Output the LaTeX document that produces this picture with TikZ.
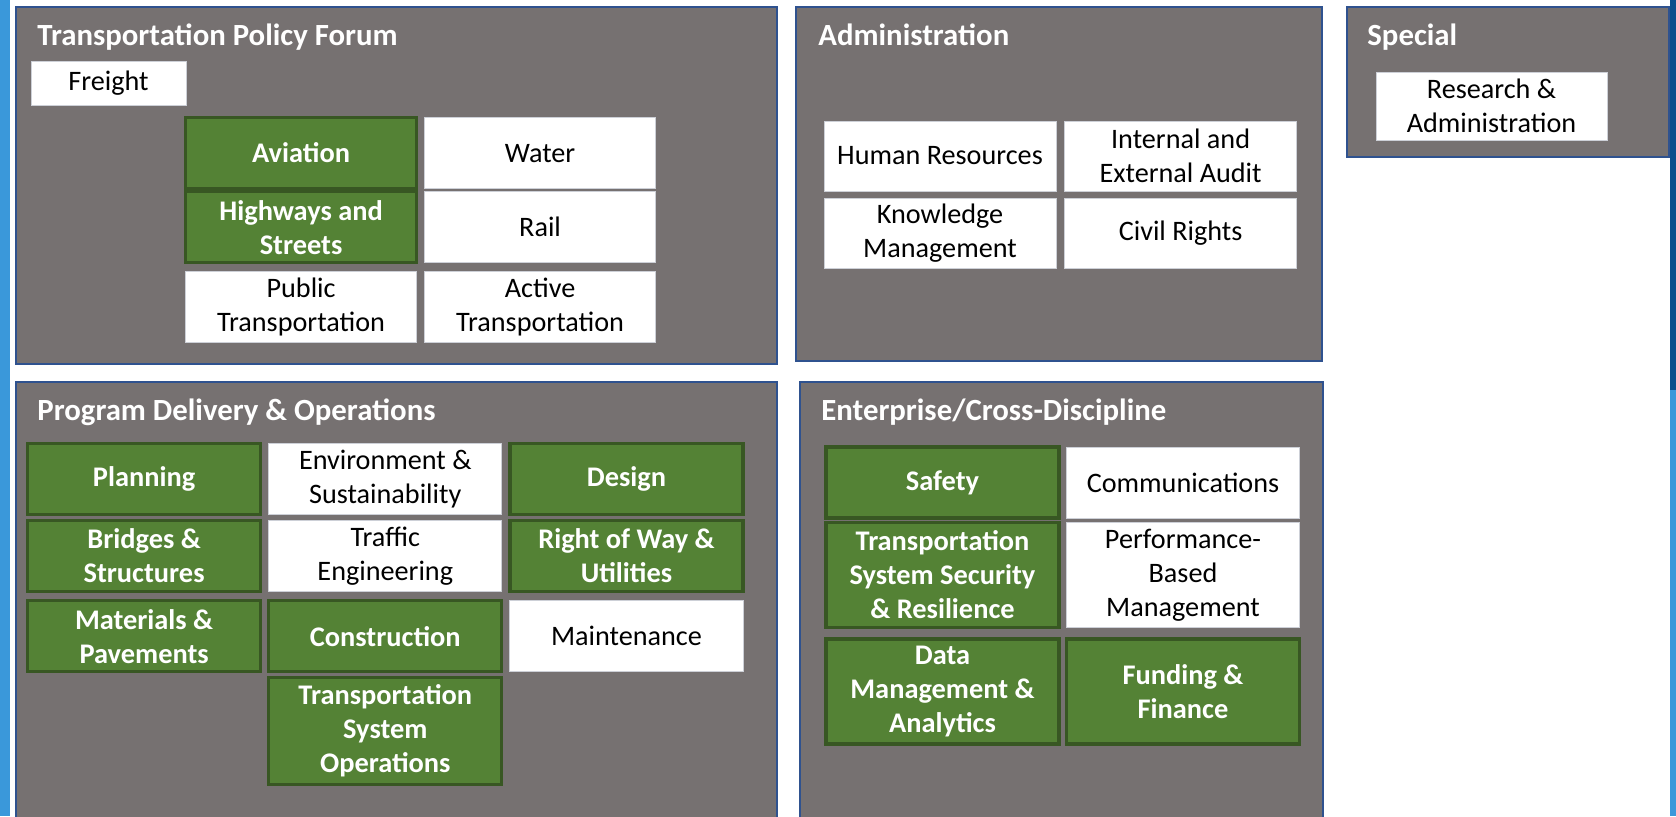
\documentclass[tikz,border=0pt]{standalone}
\usepackage{fontspec}
\setmainfont{Carlito}
\usepackage{tikz}
\usetikzlibrary{matrix}
\usetikzlibrary{positioning}
\usepackage{xcolor}
\definecolor{panelgray}{RGB}{118,113,113}
\definecolor{paneledge}{RGB}{47,82,143}
\definecolor{grnfill}{RGB}{84,130,53}
\definecolor{grnedge}{RGB}{56,87,35}
\definecolor{boxedge}{RGB}{205,208,215}
\definecolor{stripblue}{RGB}{58,152,218}
\definecolor{stripnavy}{RGB}{12,78,140}
\tikzset{panel/.style={fill=panelgray, draw=paneledge, line width=0.6pt},
        panel title/.style={anchor=base west, inner sep=0pt, text=white,
          font=\bfseries\fontsize{15.4}{17}\selectfont},
        box/.style={anchor=center, align=center, inner sep=2pt, outer sep=0pt,
          fill=white, draw=boxedge, line width=0.5pt, text=black,
          font=\fontsize{14.1}{17}\selectfont},
        grn/.style={fill=grnfill, draw=grnedge, line width=1.6pt, text=white,
          font=\bfseries\fontsize{14.2}{17}\selectfont},
        unit board/.style={
          inner sep=0pt, outer sep=0pt,
          nodes={box, minimum width=#1, minimum height=35.5pt} % outer sep 0 so the thick green lines do not push the rows apart
          },
}

\begin{document}
\begin{tikzpicture}[x=0.5pt, y=-0.5pt]
      \useasboundingbox (0,0) rectangle (1676,816);
      % side strips
      \fill[stripblue] (0,0) rectangle (10,816);
      \fill[stripnavy] (1670,0) rectangle (1676,390);
      \fill[stripblue] (1670,390) rectangle (1676,816);

      % PANELS
      \draw[panel] (16,7) rectangle (777,364);
      \draw[panel] (796,7) rectangle (1322,361);
      \draw[panel] (1347,7) rectangle (1669,157);
      \draw[panel] (16,382) rectangle (777,824);
      \draw[panel] (800,382) rectangle (1323,824);

      % TRANSPORTATION POLICY FORUM
      \node[panel title] (tpftitle) at (37,45) {Transportation Policy Forum};
      \node[box, minimum width=77.5pt, minimum height=22pt, anchor=north west] (freight) at (31,61) {Freight};
      \matrix[unit board=115.5pt, column sep=2.95pt, row sep=0pt, matrix anchor=north west] (tpf) at (184,116) {
        \node[grn] (aviation) {Aviation};                 &  \node (water) {Water}; \\
        \node[grn] (highways) {Highways and\\Streets};    &  \node (rail) {Rail}; \\[3.45pt]
        \node (public) {Public\\Transportation};          &  \node (active) {Active\\Transportation}; \\
        };

      % ADMINISTRATION
      \node[panel title] (admintitle) at (818,45) {Administration};
      \matrix[unit board=116pt, nodes={minimum height=35pt}, column sep=3.8pt, row sep=3.3pt, matrix anchor=north west] (admin) at (823.5,120.5) {
        \node (hr) {Human Resources};                &  \node (audit) {Internal and\\External Audit}; \\
        \node (knowledge) {Knowledge\\Management};   &  \node (civil) {Civil Rights}; \\
        };

      % SPECIAL
      \node[panel title] (spectitle) at (1367,45) {Special};
      \node[box, minimum width=115.5pt, minimum height=34pt, anchor=north west] (research) at (1376,72) {Research \&\\Administration};

      % PROGRAM DELIVERY & OPERATIONS
      \node[panel title] (pdotitle) at (37,420) {Program Delivery \& Operations};
      \matrix[unit board=116.5pt, column sep=2.5pt, row sep=1.2pt, matrix anchor=north west] (pdo) at (26,442) {
        \node[grn] (planning) {Planning};                    &  \node (environment) {Environment \&\\Sustainability};  &  \node[grn] (design) {Design}; \\
        \node[grn] (bridges) {Bridges \&\\Structures};       &  \node (traffic) {Traffic\\Engineering};               &  \node[grn] (rightofway) {Right of Way \&\\Utilities}; \\[2pt]
        \node[grn] (materials) {Materials \&\\Pavements};    &  \node[grn] (construction) {Construction};             &  \node (maintenance) {Maintenance}; \\
                                                             &  \node[grn, minimum height=53.5pt] (tso) {Transportation\\System\\Operations}; & \\
        };

      % ENTERPRISE/CROSS-DISCIPLINE
      \node[panel title] (ecdtitle) at (821,420) {Enterprise/Cross-Discipline};
      \matrix[unit board=116.5pt, column sep=2.15pt, row sep=0.65pt, matrix anchor=north west] (ecd) at (824.4,445.4) {
        \node[grn] (safety) {Safety};  &  \node (communications) {Communications}; \\
        \node[grn, minimum height=52.5pt] (security) {Transportation\\System Security\\\& Resilience};  &  \node[minimum height=52.5pt] (performance) {Performance-\\Based\\Management}; \\[3.5pt]
        \node[grn, minimum height=52.5pt] (data) {Data\\Management \&\\Analytics};                    &  \node[grn, minimum height=52.5pt] (funding) {Funding \&\\Finance}; \\
        };
\end{tikzpicture}
\end{document}
